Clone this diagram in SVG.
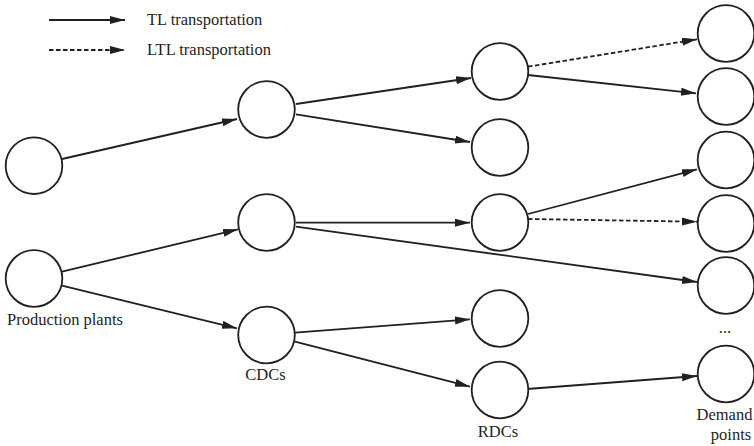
<svg xmlns="http://www.w3.org/2000/svg" width="754" height="446" viewBox="0 0 754 446">
<style>
.n{fill:#fff;stroke:#231f20;stroke-width:1.8}
.e{fill:none;stroke:#231f20;stroke-width:1.8}
.d{stroke-dasharray:4.5 2.5}
.t{font-family:'Liberation Serif','DejaVu Serif','Times New Roman',Times,serif;font-size:16.5px;fill:#231f20}
</style>
<defs>
<marker id="a" markerUnits="userSpaceOnUse" markerWidth="16" markerHeight="10" refX="15" refY="4" orient="auto">
<path d="M0,0 L15,4 L0,8 z" fill="#231f20"/>
</marker>
</defs>
<g id="legend">
<line class="e" x1="49" y1="20" x2="125" y2="20" marker-end="url(#a)"/>
<line class="e d" x1="49" y1="50" x2="125" y2="50" marker-end="url(#a)"/>
<text class="t" x="147" y="25">TL transportation</text>
<text class="t" x="147" y="55">LTL transportation</text>
</g>
<g id="connectors">
<line class="e" x1="62" y1="159" x2="237" y2="119" marker-end="url(#a)"/>
<line class="e" x1="62" y1="271.7" x2="238" y2="229.3" marker-end="url(#a)"/>
<line class="e" x1="62" y1="285.7" x2="237" y2="328.3" marker-end="url(#a)"/>
<line class="e" x1="296" y1="104" x2="471" y2="78" marker-end="url(#a)"/>
<line class="e" x1="296" y1="114.3" x2="470" y2="142" marker-end="url(#a)"/>
<line class="e" x1="296" y1="222.7" x2="470" y2="222.7" marker-end="url(#a)"/>
<line class="e" x1="296" y1="226.7" x2="697" y2="282" marker-end="url(#a)"/>
<line class="e" x1="295" y1="332.7" x2="470" y2="319.3" marker-end="url(#a)"/>
<line class="e" x1="295" y1="341.7" x2="470" y2="386.7" marker-end="url(#a)"/>
<line class="e d" x1="528" y1="66.7" x2="697" y2="39.3" marker-end="url(#a)"/>
<line class="e" x1="528" y1="75" x2="696" y2="93.3" marker-end="url(#a)"/>
<line class="e" x1="528" y1="214" x2="697" y2="169.3" marker-end="url(#a)"/>
<line class="e d" x1="528" y1="219" x2="697" y2="221.7" marker-end="url(#a)"/>
<line class="e" x1="527" y1="389" x2="697" y2="376" marker-end="url(#a)"/>
</g>
<g id="plant1"><circle class="n" cx="34" cy="165.7" r="28.3"/></g>
<g id="plant2"><circle class="n" cx="34" cy="278.5" r="28.3"/>
<text class="t" x="7" y="325" font-family="Liberation Serif, serif">Production plants</text></g>
<g id="cdc1"><circle class="n" cx="266.5" cy="109.5" r="28.3"/></g>
<g id="cdc2"><circle class="n" cx="266.5" cy="222.5" r="28.3"/></g>
<g id="cdc3"><circle class="n" cx="266.5" cy="335" r="28.3"/>
<text class="t" x="265.5" y="380" text-anchor="middle">CDCs</text></g>
<g id="rdc1"><circle class="n" cx="500" cy="71.5" r="28.3"/></g>
<g id="rdc2"><circle class="n" cx="500" cy="147.5" r="28.3"/></g>
<g id="rdc3"><circle class="n" cx="500" cy="222.5" r="28.3"/></g>
<g id="rdc4"><circle class="n" cx="500" cy="318.5" r="28.3"/></g>
<g id="rdc5"><circle class="n" cx="500" cy="390" r="28.3"/>
<text class="t" x="498" y="437" text-anchor="middle">RDCs</text></g>
<g id="d1"><circle class="n" cx="726" cy="33.5" r="28.3"/></g>
<g id="d2"><circle class="n" cx="726" cy="96.5" r="28.3"/></g>
<g id="d3"><circle class="n" cx="726" cy="160" r="28.3"/></g>
<g id="d4"><circle class="n" cx="726" cy="223.5" r="28.3"/></g>
<g id="d5"><circle class="n" cx="726" cy="285.5" r="28.3"/></g>
<g id="d6"><circle class="n" cx="726" cy="374" r="28.3"/>
<text class="t" x="725" y="333" text-anchor="middle">...</text>
<text class="t" x="724.5" y="420" text-anchor="middle">Demand</text>
<text class="t" x="731" y="440" text-anchor="middle">points</text></g>
</svg>
